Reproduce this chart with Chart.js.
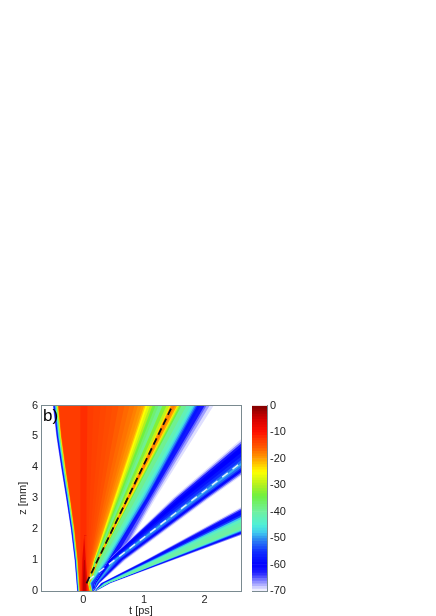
<!DOCTYPE html>
<html>
<head>
<meta charset="utf-8">
<title>b)</title>
<script src="https://cdn.jsdelivr.net/npm/chart.js@4"></script>
<style>
  html, body { margin: 0; padding: 0; background: #fff; }
  canvas { position: absolute; top: 395px; }
  #fieldChart { left: 0; }
  #barChart { left: 245px; }
</style>
</head>
<body>
<canvas id="fieldChart" width="245" height="221"></canvas>
<canvas id="barChart" width="191" height="221"></canvas>
<script>
// colour scale, dB
const cmapLevels = [0, -5, -10, -13, -15, -17, -20, -22, -25, -30, -34, -40, -45, -48, -50, -55, -60, -63, -66, -70];
const cmapColors = ['#800000', '#d40000', '#ff1000', '#ff3c00', '#ff5000', '#ff7000', '#ffa000', '#ffc800', '#ffff00', '#b0f020',
  '#70f040', '#70f0a0', '#50f0d8', '#40c8f0', '#3090f0', '#1030ff', '#0000ff', '#2020ff', '#8080ff', '#ffffff'];

const tTicks = [0, 1, 2];
const zTicks = [0, 1, 2, 3, 4, 5, 6];
const dbTicks = [0, -10, -20, -30, -40, -50, -60, -70];
const dbSteps = [0, -1, -2, -3, -4, -5, -6, -7, -8, -9, -10, -11, -12, -13, -14, -15, -16, -17, -18, -19, -20, -21, -22, -23, -24,
  -25, -26, -27, -28, -29, -30, -31, -32, -33, -34, -35, -36, -37, -38, -39, -40, -41, -42, -43, -44, -45, -46, -47, -48, -49,
  -50, -51, -52, -53, -54, -55, -56, -57, -58, -59, -60, -61, -62, -63, -64, -65, -66, -67, -68, -69];

// contours: [dB level, t at each z row], left to right
const flankRows = [0, 1, 2, 3, 4, 5, 6];
const leftFlank = [
  [-66, -.104, -.146, -.208, -.286, -.369, -.446, -.504],
  [-60, -.099, -.140, -.201, -.279, -.361, -.437, -.494],
  [-52, -.091, -.131, -.190, -.266, -.347, -.422, -.478],
  [-45, -.084, -.123, -.181, -.256, -.336, -.410, -.464],
  [-38, -.078, -.115, -.173, -.246, -.325, -.397, -.451],
  [-30, -.072, -.109, -.165, -.238, -.316, -.387, -.440],
  [-24, -.068, -.104, -.159, -.232, -.309, -.379, -.431],
  [-17, -.063, -.098, -.153, -.224, -.301, -.370, -.421],
  [-13, -.058, -.092, -.146, -.217, -.292, -.361, -.412]
];

const stripeRows = [0, .25, 1, 3, 6];
const centreStripe = [
  [-12, -.05, -.05, -.05, -.05, -.05]
];
const coreRows = [0, .25, 1, 1.8];
const darkCore = [
  [-8, -.03, -.03, -.02, .012],
  [-4, -.01, -.01, .005, .012],
  [-8, .04, .04, .025, .012],
  [-12, .066, .066, .04, .012]
];

const fanRows = [0, .25, 1, 3, 6];
const mainFan = [
  [-13, .07, .066, .05, .05, .066],
  [-13.5, .076, .068, .065, .105, .165],
  [-14, .083, .07, .080, .160, .281],
  [-14.5, .086, .071, .093, .208, .38],
  [-15, .09, .072, .106, .255, .479],
  [-15.75, .092, .073, .119, .303, .579],
  [-16.5, .095, .074, .132, .350, .678],
  [-17.2, .098, .075, .142, .389, .76],
  [-18, .10, .076, .153, .429, .843],
  [-19, .102, .077, .16, .456, .90],
  [-20, .105, .078, .168, .485, .959],
  [-22, .108, .08, .174, .504, 1.0],
  [-25, .11, .082, .177, .516, 1.025],
  [-27, .112, .084, .181, .532, 1.058],
  [-30, .115, .086, .186, .551, 1.099],
  [-34, .118, .088, .192, .571, 1.14],
  [-37, .12, .09, .198, .595, 1.19],
  [-39, .122, .092, .205, .619, 1.24],
  [-33, .124, .094, .213, .650, 1.306],
  [-29, .126, .096, .222, .682, 1.372],
  [-24, .128, .098, .228, .705, 1.421],
  [-20, .13, .10, .231, .715, 1.44],
  [-18, .132, .102, .236, .722, 1.46],
  [-20, .134, .104, .242, .745, 1.515],
  [-24, .136, .106, .245, .758, 1.545],
  [-29, .138, .108, .249, .773, 1.565],
  [-34, .14, .11, .252, .785, 1.587],
  [-39, .142, .112, .26, .80, 1.620],
  [-42, .144, .114, .314, .876, 1.702],
  [-44, .146, .116, .342, .927, 1.769],
  [-47, .148, .118, .367, .965, 1.81],
  [-50, .15, .12, .389, .996, 1.835],
  [-54, .152, .13, .412, 1.027, 1.86],
  [-58, .154, .17, .417, 1.04, 1.884],
  [-62, .156, .19, .427, 1.067, 1.934],
  [-65, .158, .205, .50, 1.10, 2.0],
  [-67, .16, .215, .56, 1.13, 2.033],
  [-69, .162, .222, .58, 1.16, 2.083],
  [-70, .164, .226, .60, 1.19, 2.149]
];
const secondLobe = [
  [-69, .165, .19, .42, 1.47, 3.25],
  [-66, .166, .19, .42, 1.50, 3.30],
  [-62, .167, .19, .42, 1.53, 3.349],
  [-60, .168, .195, .425, 1.577, 3.423],
  [-58, .169, .20, .463, 1.668, 3.572],
  [-55, .17, .205, .477, 1.729, 3.671],
  [-52, .171, .21, .49, 1.79, 3.77],
  [-49, .172, .215, .50, 1.836, 3.844],
  [-52, .173, .225, .538, 1.882, 3.918],
  [-56, .174, .235, .575, 1.928, 3.993],
  [-60, .175, .245, .60, 1.958, 4.042],
  [-63, .176, .25, .625, 1.989, 4.092],
  [-66, .177, .255, .65, 2.019, 4.141],
  [-69, .178, .262, .675, 2.05, 4.19],
  [-70, .179, .268, .70, 2.08, 4.24]
];
const thirdLobe = [
  [-69, .18, .28, 1.020, 2.861, 5.62],
  [-65, .182, .29, 1.037, 2.911, 5.72],
  [-61, .184, .30, 1.054, 2.963, 5.83],
  [-59, .186, .31, 1.091, 3.074, 6.05],
  [-54, .188, .325, 1.117, 3.151, 6.2],
  [-48, .19, .34, 1.145, 3.234, 6.37],
  [-43, .192, .355, 1.174, 3.321, 6.54],
  [-41, .194, .380, 1.221, 3.462, 6.82],
  [-40, .196, .397, 1.290, 3.669, 7.24],
  [-43, .198, .412, 1.347, 3.841, 7.58],
  [-47, .20, .417, 1.367, 3.901, 7.70],
  [-53, .202, .422, 1.389, 3.966, 7.83],
  [-59, .204, .428, 1.41, 4.03, 7.96],
  [-62, .206, .433, 1.433, 4.10, 8.10],
  [-66, .208, .439, 1.456, 4.17, 8.24],
  [-70, .21, .445, 1.481, 4.24, 8.38]
];

// dashed guide lines
const blackDashT = [.05, 1.47];
const blackDashZ = [.25, 6];
const whiteDashT = [.08, 2.6];
const whiteDashZ = [.35, 4.15];

const FONT = 'Liberation Sans, Arial, sans-serif';
const TEXT = '#222';
const FRAME = '#7a8a90';

function levelColor(level) {
  for (let i = 1; i < cmapLevels.length; i++) {
    if (level >= cmapLevels[i]) {
      const f = (cmapLevels[i - 1] - level) / (cmapLevels[i - 1] - cmapLevels[i]);
      const a = parseInt(cmapColors[i - 1].slice(1), 16);
      const b = parseInt(cmapColors[i].slice(1), 16);
      const mix = (s) => Math.round(((a >> s) & 255) * (1 - f) + ((b >> s) & 255) * f);
      return `rgb(${mix(16)},${mix(8)},${mix(0)})`;
    }
  }
  return cmapColors[cmapColors.length - 1];
}

// every contour paints from its own edge to the right end, later ones on top
const datasets = [];
function addContours(rows, contours) {
  contours.forEach(c => {
    datasets.push({
      data: rows.map((z, i) => ({ x: c[i + 1], y: z })),
      backgroundColor: levelColor(c[0]),
      borderWidth: 0,
      pointRadius: 0,
      fill: { value: 2.6 },
      order: -datasets.length
    });
  });
}
addContours(flankRows, leftFlank);
addContours(stripeRows, centreStripe);
addContours(coreRows, darkCore);
addContours(fanRows, mainFan);
addContours(fanRows, secondLobe);
addContours(fanRows, thirdLobe);

function addDash(ts, zs, color, width, dash) {
  datasets.push({
    data: ts.map((t, i) => ({ x: t, y: zs[i] })),
    borderColor: color,
    borderWidth: width,
    borderDash: dash,
    pointRadius: 0,
    fill: false,
    order: -1000
  });
}
addDash(blackDashT, blackDashZ, '#111', 1.8, [7, 4]);
addDash(whiteDashT, whiteDashZ, '#dcefff', 1.5, [7, 6]);

const panelLabel = {
  id: 'panelLabel',
  afterDraw(chart) {
    const { ctx, chartArea } = chart;
    ctx.save();
    ctx.font = '17px ' + FONT;
    ctx.fillStyle = '#000';
    ctx.textBaseline = 'top';
    ctx.fillText('b)', chartArea.left + 2, chartArea.top + 2);
    ctx.restore();
  }
};

const tickFont = { family: FONT, size: 11 };
const hiddenEdge = {
  ticks: { display: false },
  grid: { drawOnChartArea: false, drawTicks: false },
  border: { color: FRAME, z: 2 }
};

new Chart(document.getElementById('fieldChart'), {
  type: 'line',
  data: { datasets },
  plugins: [panelLabel],
  options: {
    indexAxis: 'y',
    responsive: false,
    animation: false,
    layout: { padding: { top: 10.5, right: 4, left: 0, bottom: 0 } },
    plugins: { legend: { display: false }, tooltip: { enabled: false } },
    scales: {
      x: {
        type: 'linear', min: -.7, max: 2.6,
        afterBuildTicks: (a) => { a.ticks = tTicks.map(v => ({ value: v })); },
        afterFit: (a) => { a.height = 25; },
        ticks: { font: tickFont, color: TEXT, padding: 2, maxRotation: 0 },
        grid: { drawOnChartArea: false, drawTicks: false },
        border: { color: FRAME, z: 2 },
        title: { display: true, text: 't [ps]', font: tickFont, color: TEXT, padding: { top: 0, bottom: -2 } }
      },
      y: {
        type: 'linear', min: 0, max: 6,
        afterBuildTicks: (a) => { a.ticks = zTicks.map(v => ({ value: v })); },
        afterFit: (a) => { a.width = 41; },
        ticks: { font: tickFont, color: TEXT, padding: 3 },
        grid: { drawOnChartArea: false, drawTicks: false },
        border: { color: FRAME, z: 2 },
        title: { display: true, text: 'z [mm]', font: tickFont, color: TEXT, padding: { top: 16, bottom: 0 } }
      },
      xTop: { type: 'linear', position: 'top', min: -.7, max: 2.6, afterFit: (a) => { a.height = 0; }, ...hiddenEdge },
      yRight: { type: 'linear', position: 'right', min: 0, max: 6, afterFit: (a) => { a.width = 0; }, ...hiddenEdge }
    }
  }
});

new Chart(document.getElementById('barChart'), {
  type: 'bar',
  data: {
    labels: ['dB'],
    datasets: dbSteps.map(level => ({
      data: [-1],
      backgroundColor: levelColor(level - .5),
      borderWidth: 0,
      barPercentage: 1,
      categoryPercentage: 1
    }))
  },
  options: {
    responsive: false,
    animation: false,
    layout: { padding: { top: 10.5, left: 7, right: 0, bottom: 25 } },
    plugins: { legend: { display: false }, tooltip: { enabled: false } },
    scales: {
      x: {
        stacked: true,
        afterFit: (a) => { a.height = 0; },
        ticks: { display: false },
        grid: { drawOnChartArea: false, drawTicks: false },
        border: { color: FRAME, z: 2 }
      },
      y: {
        stacked: true, position: 'right', min: -70, max: 0,
        afterBuildTicks: (a) => { a.ticks = dbTicks.map(v => ({ value: v })); },
        afterFit: (a) => { a.width = 169; },
        ticks: { font: tickFont, color: TEXT, padding: 3 },
        grid: { drawOnChartArea: false, drawTicks: false },
        border: { color: FRAME, z: 2 }
      }
    }
  }
});
</script>
</body>
</html>
